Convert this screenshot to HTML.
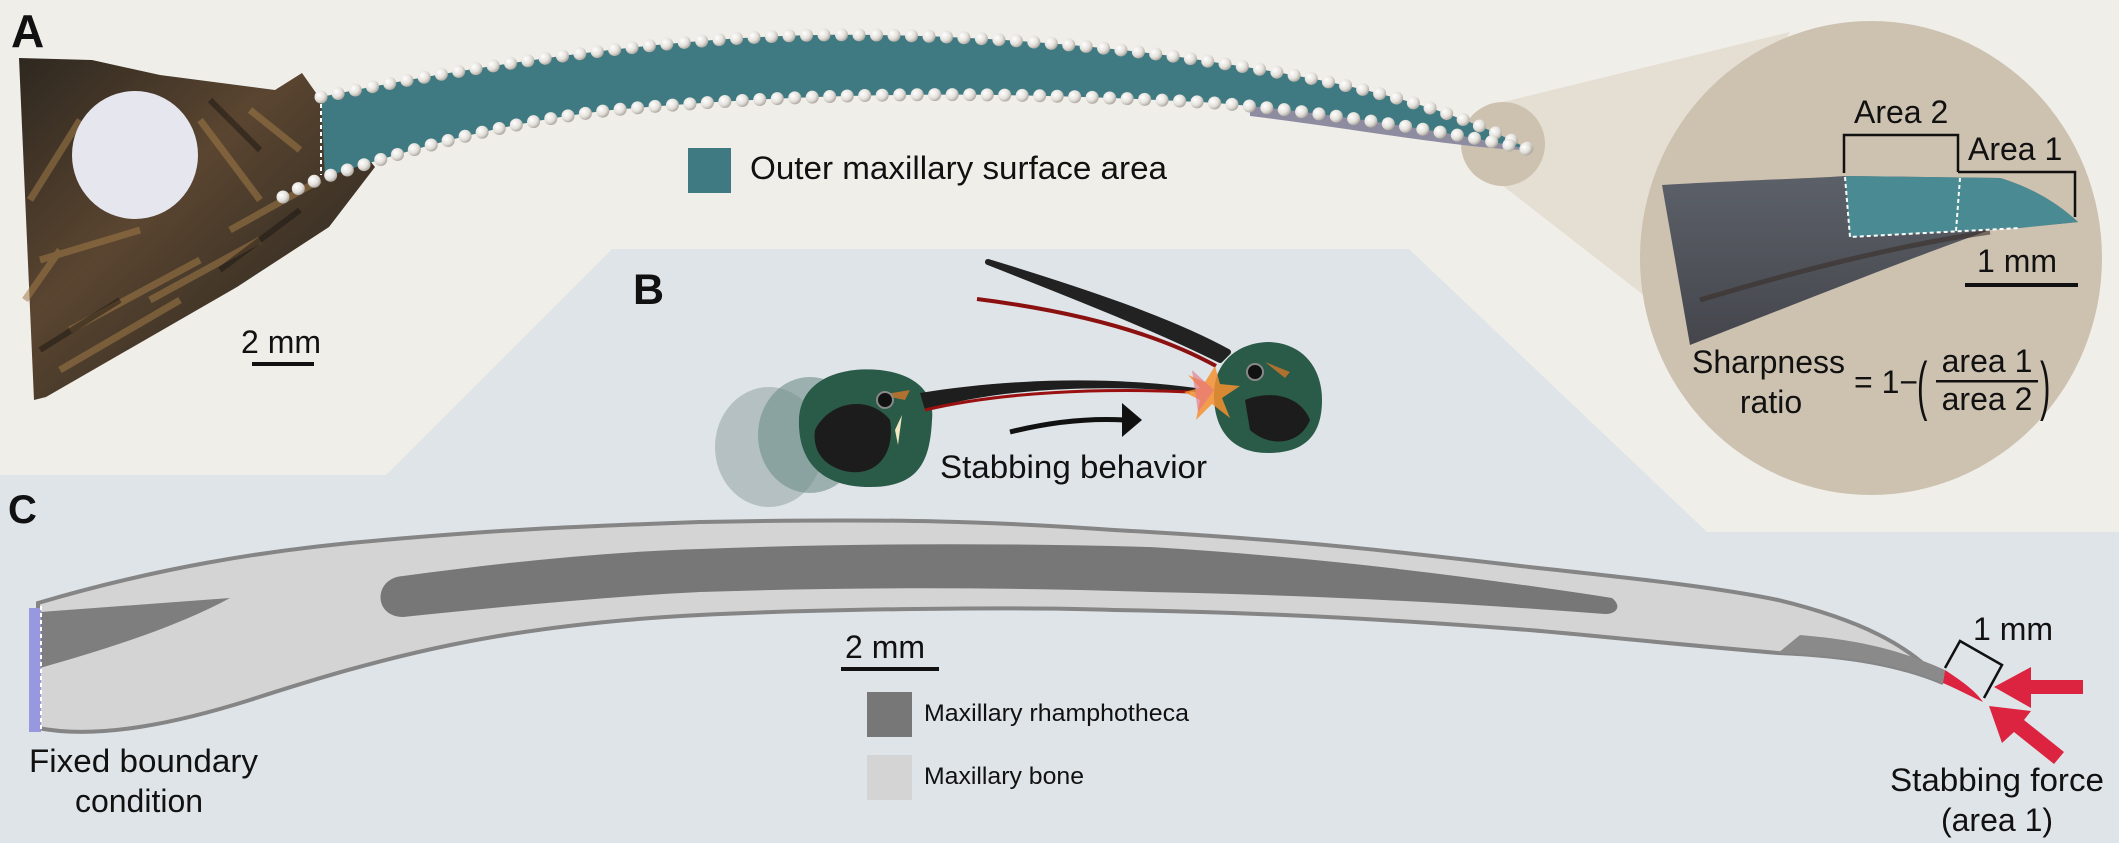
<!DOCTYPE html>
<html><head><meta charset="utf-8"><style>
html,body{margin:0;padding:0;background:#dfe4e8}
svg{display:block}
text{font-family:"Liberation Sans",Arial,sans-serif;fill:#111}
</style></head><body>
<svg id="s" width="2119" height="843" viewBox="0 0 2119 843" xmlns="http://www.w3.org/2000/svg">
<defs>
<linearGradient id="head" x1="0" y1="0" x2="1" y2="1">
<stop offset="0" stop-color="#2e2820"/><stop offset="0.4" stop-color="#5a4530"/><stop offset="0.7" stop-color="#3c3226"/><stop offset="1" stop-color="#6a5236"/>
</linearGradient>
<radialGradient id="bead" cx="0.35" cy="0.35" r="0.7"><stop offset="0" stop-color="#ffffff"/><stop offset="0.6" stop-color="#e4e1dc"/><stop offset="1" stop-color="#a9a49c"/></radialGradient>
<linearGradient id="dk" x1="0" y1="0" x2="0" y2="1"><stop offset="0" stop-color="#5c6068"/><stop offset="1" stop-color="#44464c"/></linearGradient>
</defs>
<rect width="2119" height="843" fill="#dfe4e8"/>
<polygon points="0,0 2119,0 2119,532 1707,532 1409,249 612,249 386,475 0,475" fill="#f0eee9"/>
<!-- cone -->
<polygon points="1503,102 1790,32 1650,300 1503,186" fill="#e5ded3"/>
<circle cx="1503" cy="144" r="42" fill="#cdc1b0"/>
<ellipse cx="1871" cy="258" rx="231" ry="237" fill="#cdc1b0"/>
<!-- head photo -->
<path d="M19,58 L92,60 L160,75 L275,90 L302,73 L321,100 L375,167 L329,227 L237,287 L46,397 L34,400 Z" fill="url(#head)"/>
<g stroke="#a07a48" stroke-width="7" opacity="0.55" fill="none">
<path d="M40,260 L140,230"/><path d="M70,330 L200,260"/><path d="M30,200 L80,120"/><path d="M200,120 L260,200"/><path d="M150,300 L260,240"/>
<path d="M60,370 L180,300"/><path d="M230,230 L320,180"/><path d="M250,110 L300,150"/><path d="M25,300 L60,250"/>
</g>
<g stroke="#1a1612" stroke-width="6" opacity="0.5" fill="none">
<path d="M210,100 L260,150"/><path d="M40,350 L120,300"/><path d="M220,270 L300,210"/>
</g>
<ellipse cx="135" cy="155" rx="63" ry="64" fill="#e6e6ee"/>
<!-- teal band -->
<path d="M1250,104 C1350,112 1440,128 1530,150 C1470,150 1350,128 1250,116 Z" fill="#8e8ca0"/>
<path d="M321,97 C450,70 650,38 818,35 C950,33 1100,45 1200,60 C1300,75 1430,95 1530,150 C1460,133 1300,108 1200,102 C1000,92 841,90 612,110 C480,125 380,160 325,177 Z" fill="#3f7a82"/>
<line x1="321" y1="97" x2="321" y2="175" stroke="#fff" stroke-width="2" stroke-dasharray="4,3"/>
<path id="up" d="M321,97 C450,70 650,38 818,35 C950,33 1100,45 1200,60 C1300,75 1430,95 1530,150" fill="none"/>
<path id="lo" d="M283,197 C300,187 312,182 325,177 C380,160 480,125 612,110 C841,90 1000,92 1200,102 C1300,108 1460,133 1530,150" fill="none"/>
<g id="beads"></g>
<!-- A labels -->
<text x="11" y="47" font-size="46" font-weight="bold">A</text>
<rect x="688" y="148" width="43" height="45" fill="#3f7a82"/>
<text x="750" y="179" font-size="32" textLength="417" lengthAdjust="spacingAndGlyphs">Outer maxillary surface area</text>
<text x="241" y="353" font-size="32">2 mm</text>
<rect x="252" y="362" width="62" height="4" fill="#111"/>
<!-- zoomed tip -->
<path d="M1662,185 C1750,180 1820,178 1845,176 L2000,178 C2040,190 2065,210 2078,222 C2040,226 2010,228 1990,230 C1900,262 1780,310 1690,345 Z" fill="url(#dk)"/>
<path d="M1700,300 C1800,270 1900,245 1990,232" stroke="#3a2e2a" stroke-width="5" fill="none" opacity="0.6"/>
<path d="M1845,176 L2000,178 C2040,190 2065,210 2078,222 L2020,228 L1850,237 Z" fill="#4a8a92"/>
<g stroke="#fff" stroke-width="2" stroke-dasharray="4,3" fill="none">
<path d="M1845,177 L1850,237 L2020,228"/><path d="M1960,178 L1956,231"/>
</g>
<g stroke="#111" stroke-width="2.5" fill="none">
<path d="M1844,173 L1844,135 L1958,135 L1958,172"/>
<path d="M1958,172 L2075,172 L2075,217"/>
</g>
<text x="1854" y="123" font-size="32">Area 2</text>
<text x="1968" y="160" font-size="32">Area 1</text>
<text x="1977" y="272" font-size="32">1 mm</text>
<rect x="1965" y="283" width="113" height="4" fill="#111"/>
<text x="1692" y="373" font-size="32">Sharpness</text>
<text x="1771" y="413" font-size="32" text-anchor="middle">ratio</text>
<text x="1854" y="393" font-size="32">= 1−</text>
<text x="1917" y="405" font-size="52" transform="translate(1917,395) scale(0.6,1.25) translate(-1917,-395)">(</text>
<text x="2040" y="405" font-size="52" transform="translate(2040,395) scale(0.6,1.25) translate(-2040,-395)">)</text>
<text x="1987" y="372" font-size="32" text-anchor="middle">area 1</text>
<rect x="1936" y="380" width="102" height="2.5" fill="#111"/>
<text x="1987" y="410" font-size="32" text-anchor="middle">area 2</text>
<!-- B -->
<text x="633" y="304" font-size="43" font-weight="bold">B</text>
<ellipse cx="769" cy="447" rx="54" ry="60" fill="#8fa3a2" opacity="0.55"/>
<ellipse cx="810" cy="435" rx="52" ry="58" fill="#6f8f88" opacity="0.6"/>
<!-- beaks right bird -->
<path d="M988,262 C1080,290 1170,320 1228,352 L1220,360 C1160,330 1080,298 988,262 Z" fill="#222" stroke="#222" stroke-width="6" stroke-linejoin="round"/>
<path d="M977,299 C1080,312 1160,335 1216,366" stroke="#8b1010" stroke-width="4" fill="none"/>
<!-- main left bird -->
<path d="M799,420 C800,380 840,366 880,370 C915,374 935,392 932,420 C930,460 920,487 870,487 C820,487 798,460 799,420 Z" fill="#2a5a48"/>
<path d="M815,430 C830,400 870,395 890,420 C895,450 880,475 850,472 C825,468 812,452 815,430 Z" fill="#1c1c1c"/>
<path d="M880,395 L910,390 L905,400 Z" fill="#b07030"/>
<circle cx="885" cy="400" r="8" fill="#111" stroke="#888" stroke-width="2"/>
<path d="M895,430 L902,415 L898,445 Z" fill="#f0e8c0"/>
<path d="M920,393 C1000,380 1100,375 1196,388 L1196,392 C1100,384 1000,388 925,410 Z" fill="#1e1e1e"/>
<path d="M925,410 C1000,392 1100,388 1190,392" stroke="#9a1010" stroke-width="3" fill="none"/>
<!-- right bird head -->
<path d="M1214,395 C1214,360 1240,342 1270,342 C1305,344 1322,370 1322,400 C1322,435 1305,453 1268,453 C1232,453 1214,430 1214,395 Z" fill="#2a5a48"/>
<path d="M1245,400 C1270,390 1300,395 1310,420 C1300,445 1270,448 1250,430 Z" fill="#1c1c1c"/>
<circle cx="1255" cy="372" r="8" fill="#111" stroke="#888" stroke-width="2"/>
<path d="M1265,362 L1290,372 L1285,378 Z" fill="#b07030"/>
<polygon points="1188,375 1205,382 1215,366 1220,384 1240,386 1222,398 1230,418 1212,404 1196,420 1200,400 1184,392 1200,388" fill="#f59030" opacity="0.85"/>
<polygon points="1192,370 1214,390 1198,412" fill="#e87080" opacity="0.6"/>
<!-- arrow -->
<path d="M1010,432 C1050,422 1090,418 1125,420" stroke="#111" stroke-width="5" fill="none"/>
<polygon points="1122,403 1142,420 1122,437" fill="#111"/>
<text x="940" y="478" font-size="32" textLength="267" lengthAdjust="spacingAndGlyphs">Stabbing behavior</text>
<!-- C -->
<text x="8" y="523" font-size="40" font-weight="bold">C</text>
<path d="M38,603 C150,570 260,550 383,540 C500,530 560,527 700,522 C900,518 1000,522 1114,530 C1300,540 1400,552 1529,567 C1650,580 1720,588 1778,600 C1860,620 1910,645 1943,683 C1900,665 1850,656 1778,653 C1650,642 1600,636 1529,630 C1400,620 1250,612 1114,610 C1000,606 800,610 700,615 C500,625 383,657 250,700 C180,722 100,740 38,728 Z" fill="#d4d4d4" stroke="#858585" stroke-width="4"/>
<path d="M1778,653 C1850,656 1900,665 1943,683 L1945,670 C1900,650 1860,640 1800,635 Z" fill="#8a8a8a"/>
<path d="M40,612 L230,598 C180,625 120,645 40,668 Z" fill="#7e7e7e"/>
<path d="M403,576 C500,563 600,552 700,549 C850,543 1000,543 1150,547 C1300,556 1450,573 1612,598 C1622,606 1617,614 1605,614 C1450,602 1300,595 1150,592 C1000,587 850,587 700,592 C600,597 500,607 403,617 C373,617 373,578 403,576 Z" fill="#777"/>
<rect x="29" y="608" width="12" height="124" fill="#9898e0"/>
<line x1="41" y1="606" x2="41" y2="730" stroke="#fff" stroke-width="2" stroke-dasharray="4,3"/>
<path d="M1945,670 C1960,680 1975,690 1983,702 C1968,695 1955,688 1943,683 Z" fill="#dc2440"/>
<text x="845" y="658" font-size="32">2 mm</text>
<rect x="841" y="667" width="98" height="4" fill="#111"/>
<rect x="867" y="692" width="45" height="45" fill="#777"/>
<text x="924" y="721" font-size="24" textLength="265" lengthAdjust="spacingAndGlyphs">Maxillary rhamphotheca</text>
<rect x="867" y="755" width="45" height="45" fill="#d4d4d4"/>
<text x="924" y="784" font-size="24" textLength="160" lengthAdjust="spacingAndGlyphs">Maxillary bone</text>
<text x="29" y="772" font-size="32" textLength="229" lengthAdjust="spacingAndGlyphs">Fixed boundary</text>
<text x="139" y="812" font-size="32" text-anchor="middle">condition</text>
<path d="M1945,668 L1960,641 L2002,665 L1984,698" stroke="#111" stroke-width="2.5" fill="none"/>
<text x="1973" y="640" font-size="32">1 mm</text>
<polygon points="1994,687 2031,667 2031,680 2083,680 2083,694 2031,694 2031,708" fill="#dc2440"/>
<polygon points="1989,706 2031,711 2024,720 2064,752 2054,764 2014,732 2002,743" fill="#dc2440"/>
<text x="1890" y="791" font-size="32" textLength="214" lengthAdjust="spacingAndGlyphs">Stabbing force</text>
<text x="1997" y="831" font-size="32" text-anchor="middle">(area 1)</text>
</svg>
<script>
(function(){var g=document.getElementById('beads');['up','lo'].forEach(function(id){var p=document.getElementById(id);var L=p.getTotalLength();for(var d=0;d<=L;d+=17.5){var pt=p.getPointAtLength(d);var c=document.createElementNS('http://www.w3.org/2000/svg','circle');c.setAttribute('cx',pt.x);c.setAttribute('cy',pt.y);c.setAttribute('r',6.5);c.setAttribute('fill','url(#bead)');g.appendChild(c);}});})();
</script>
</body></html>
